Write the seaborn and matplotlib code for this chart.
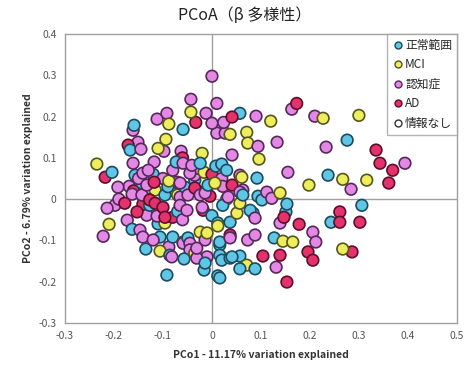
import matplotlib
matplotlib.use("Agg")
import matplotlib.pyplot as plt
from matplotlib.lines import Line2D
import seaborn as sns
import pandas as pd

categories = ["正常範囲", "MCI", "認知症", "AD", "情報なし"]

normal_x = [-0.059, -0.159, -0.204, -0.167, -0.073, -0.157, -0.143, 0.008, 0.020, 0.092,
            0.237, 0.276, 0.057, 0.306, 0.243, 0.127, 0.151, 0.153, 0.102, 0.016,
            0.088, 0.057, 0.084, 0.016, 0.041, 0.020, -0.014, 0.012, 0.078, -0.163,
            -0.135, -0.092, -0.057, -0.016, -0.106, -0.024, -0.055, 0.094, 0.063, 0.022,
            0.037, -0.049, -0.080, 0.016, 0.016, 0.037, 0.057, -0.086, 0.012, -0.035,
            -0.096, -0.008, -0.127, -0.120, -0.090, -0.030, 0.000, -0.070, 0.030, -0.110]
normal_y = [0.169, 0.179, 0.065, 0.119, 0.090, 0.058, 0.039, 0.080, 0.085, 0.051,
            0.058, 0.143, 0.208, -0.015, -0.056, -0.094, -0.031, -0.012, -0.002, -0.191,
            -0.169, -0.169, -0.034, -0.104, -0.140, -0.148, -0.155, -0.058, -0.027, -0.073,
            -0.121, -0.184, -0.145, -0.172, -0.092, 0.087, 0.029, 0.007, 0.010, -0.015,
            -0.056, -0.094, -0.092, -0.111, -0.136, -0.143, -0.138, -0.136, -0.186, 0.046,
            0.010, 0.034, -0.015, 0.060, 0.030, 0.020, -0.040, -0.030, 0.070, -0.060]

mci_x = [-0.043, -0.088, -0.094, -0.110, -0.020, -0.235, 0.227, 0.300, 0.120, 0.071,
         0.073, 0.096, 0.267, 0.198, 0.061, -0.016, 0.006, 0.139, 0.145, 0.165,
         0.267, 0.071, 0.057, 0.051, 0.012, -0.210, -0.106, -0.059, -0.010, -0.096,
         -0.088, -0.116, 0.037, -0.024, -0.035, 0.316, -0.070, -0.130, 0.030]
mci_y = [0.211, 0.182, 0.145, 0.123, 0.111, 0.085, 0.196, 0.203, 0.189, 0.162,
         0.136, 0.097, 0.048, 0.034, 0.053, 0.065, 0.039, 0.015, -0.102, -0.104,
         -0.121, -0.160, -0.010, -0.034, -0.065, -0.061, -0.126, -0.104, -0.082, -0.058,
         0.044, 0.022, 0.157, -0.080, -0.131, 0.046, 0.010, 0.000, 0.000]

dementia_x = [0.000, -0.043, 0.010, -0.012, 0.000, -0.112, -0.092, -0.161, -0.151, -0.145,
              -0.098, -0.063, -0.118, -0.161, 0.163, 0.210, 0.090, 0.024, 0.094, 0.133,
              0.233, 0.041, 0.155, 0.284, 0.206, 0.212, 0.139, 0.122, 0.131, 0.073,
              0.088, 0.037, -0.014, 0.063, -0.214, -0.198, -0.222, -0.173, -0.082, -0.031,
              -0.045, -0.141, -0.120, -0.147, -0.088, -0.133, -0.112, -0.163, -0.143, -0.192,
              -0.169, -0.141, -0.133, -0.086, -0.071, 0.027, 0.010, -0.059, -0.041, -0.031,
              -0.045, -0.035, 0.057, -0.065, 0.022, -0.014, 0.057, 0.112, -0.065, -0.049,
              -0.024, 0.033, -0.051, -0.065, 0.088, -0.059, -0.031, -0.045, -0.010, 0.394,
              -0.130, -0.100, -0.060, -0.020, 0.020, -0.150, -0.080, -0.190]
dementia_y = [0.298, 0.242, 0.232, 0.208, 0.184, 0.194, 0.208, 0.167, 0.138, 0.121,
              0.116, 0.116, 0.090, 0.087, 0.218, 0.201, 0.201, 0.186, 0.128, 0.138,
              0.126, 0.107, 0.065, 0.024, -0.080, -0.104, -0.058, 0.002, -0.165, -0.099,
              -0.087, -0.094, -0.099, 0.022, -0.022, -0.015, -0.090, -0.051, -0.140, -0.143,
              -0.107, -0.092, -0.099, -0.075, -0.116, -0.039, -0.041, 0.012, 0.010, 0.029,
              0.031, 0.063, 0.034, 0.022, 0.041, 0.160, 0.160, 0.087, 0.082, 0.075,
              0.063, 0.058, 0.058, 0.039, 0.031, 0.015, 0.017, 0.017, 0.005, 0.010,
              0.010, 0.005, -0.027, -0.015, -0.046, -0.107, -0.119, -0.123, -0.140, 0.087,
              0.070, 0.050, -0.050, -0.020, 0.050, 0.050, 0.070, 0.000]

ad_x = [-0.033, -0.171, -0.218, 0.173, 0.041, 0.041, 0.361, 0.261, 0.261, 0.302,
        0.178, 0.147, 0.196, 0.206, 0.139, 0.104, 0.286, 0.153, 0.037, -0.153,
        -0.141, -0.116, -0.096, -0.118, -0.035, -0.004, -0.080, -0.018, 0.335, 0.369,
        0.343, -0.127, -0.178, -0.100, -0.060, -0.160, 0.000]
ad_y = [0.186, 0.131, 0.053, 0.232, 0.199, 0.034, 0.039, -0.031, -0.056, -0.056,
        -0.061, -0.044, -0.128, -0.148, -0.136, -0.138, -0.128, -0.201, -0.087, -0.031,
        -0.012, -0.010, -0.044, 0.041, 0.027, 0.007, -0.044, -0.027, 0.119, 0.070,
        0.087, -0.002, -0.010, -0.020, 0.100, 0.020, 0.060]

none_x = []
none_y = []

x_ticks = [-0.3, -0.2, -0.1, 0, 0.1, 0.2, 0.3, 0.4, 0.5]
y_ticks = [-0.3, -0.2, -0.1, 0, 0.1, 0.2, 0.3, 0.4]

face = {"正常範囲": "#5fc6e6", "MCI": "#eeee5c", "認知症": "#e488e6", "AD": "#e4326c", "情報なし": "#ffffff"}
edge = {"正常範囲": "#1c4a5e", "MCI": "#55551e", "認知症": "#55285a", "AD": "#5e0e2c", "情報なし": "#333333"}

series = {
    "正常範囲": (normal_x, normal_y),
    "MCI": (mci_x, mci_y),
    "認知症": (dementia_x, dementia_y),
    "AD": (ad_x, ad_y),
    "情報なし": (none_x, none_y),
}

frames = []
for cat in categories:
    xs, ys = series[cat]
    frames.append(pd.DataFrame({"x": xs, "y": ys, "group": [cat] * len(xs)}))
df = pd.concat(frames, ignore_index=True)
# interleave drawing order so groups overlap each other as in the original
df = df.sort_values(["x"], kind="mergesort").reset_index(drop=True)
df = pd.concat([df.iloc[0::2], df.iloc[1::2]], ignore_index=True)

sns.set_style("white")
plt.rcParams["font.family"] = ["Noto Sans CJK JP", "DejaVu Sans"]

fig = plt.figure(figsize=(4.71, 3.75), dpi=100)
ax = fig.add_axes([0.138, 0.139, 0.832, 0.770])

sns.scatterplot(data=df, x="x", y="y", hue="group", hue_order=categories[:4],
                palette=[face[c] for c in categories[:4]], ax=ax, s=70,
                edgecolor=[edge[g] for g in df["group"]], linewidth=1.2,
                legend=False, zorder=3)

ax.axhline(0, color="#a0a0a0", lw=1.0, zorder=1)
ax.axvline(0, color="#a0a0a0", lw=1.0, zorder=1)

ax.set_xlim(-0.3, 0.5)
ax.set_ylim(-0.3, 0.4)
ax.set_xticks(x_ticks)
ax.set_yticks(y_ticks)
fmt = lambda v: "0" if abs(v) < 1e-9 else f"{v:g}"
ax.set_xticklabels([fmt(v) for v in x_ticks])
ax.set_yticklabels([fmt(v) for v in y_ticks])
ax.tick_params(axis="both", length=0, labelsize=7.5, colors="#555555", pad=6)
for sp in ax.spines.values():
    sp.set_color("#a0a0a0")
    sp.set_linewidth(1.0)

ax.set_xlabel("PCo1 - 11.17% variation explained", fontsize=7.5, fontweight="bold",
              color="#333333", labelpad=6)
ax.set_ylabel("PCo2 - 6.79% variation explained", fontsize=7.5, fontweight="bold",
              color="#333333", labelpad=4)
fig.text(0.52, 0.958, "PCoA（β 多様性）", ha="center", va="center", fontsize=11.5, color="#222222")

handles = [Line2D([], [], marker="o", linestyle="none", markersize=5,
                  markerfacecolor=face[c], markeredgecolor=edge[c], markeredgewidth=1.0)
           for c in categories]
leg = ax.legend(handles, categories, loc="upper right", bbox_to_anchor=(1.0, 1.0),
                fontsize=8.5, frameon=True, fancybox=False, borderpad=0.4,
                labelspacing=0.55, handletextpad=0.1, handlelength=1.0, borderaxespad=0.0)
leg.get_frame().set_edgecolor("#a0a0a0")
leg.get_frame().set_linewidth(1.0)
leg.set_zorder(5)

fig.savefig("out.png", dpi=100)
